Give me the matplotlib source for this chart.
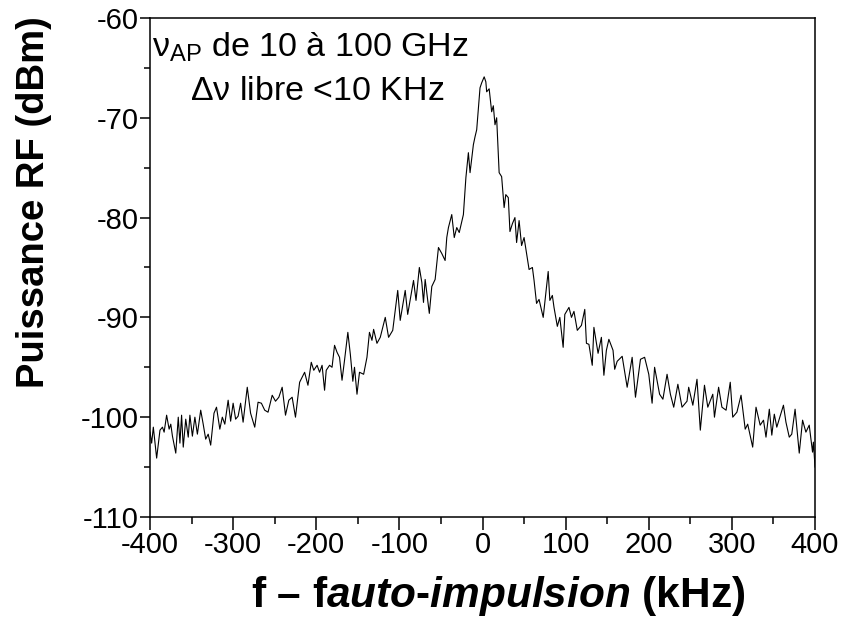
import numpy as np
import matplotlib
matplotlib.use("Agg")
import matplotlib.pyplot as plt

plt.rcParams['font.family'] = ['Liberation Sans', 'DejaVu Sans']
plt.rcParams['mathtext.fontset'] = 'custom'
plt.rcParams['mathtext.rm'] = 'Liberation Sans'
plt.rcParams['mathtext.sf'] = 'Liberation Sans:italic:bold'
plt.rcParams['axes.unicode_minus'] = False

# spectre RF (kHz, dBm)
freq_khz = [
    -400, -398, -396, -392, -388, -385, -383, -380, -377, -375, -373, -369,
    -366, -364, -362, -360, -357, -354, -352, -349, -346, -343, -339, -336,
    -333, -330, -327, -323, -320, -316, -313, -310, -306, -303, -300, -297,
    -294, -291, -288, -283, -279, -274, -270, -266, -262, -258, -253, -249,
    -245, -241, -237, -233, -229, -225, -220, -214, -210, -206, -203, -199,
    -196, -193, -190, -188, -184, -181, -178, -175, -172, -169, -166, -162,
    -159, -156, -154, -151, -148, -143, -139, -136, -133, -131, -127, -123,
    -117, -113, -108, -102, -99, -93, -90, -83, -80, -76, -73, -71,
    -69, -64, -61, -57, -53, -49, -45, -43, -41, -37, -34, -31,
    -28, -23, -20, -17, -15, -11, -9, -7, -3, -1, 2, 4,
    5, 8, 11, 13, 15, 17, 20, 23, 26, 28, 31, 33,
    36, 39, 41, 44, 47, 50, 53, 56, 60, 62, 65, 68,
    73, 79, 81, 84, 86, 90, 93, 97, 99, 104, 107, 110,
    114, 119, 123, 125, 128, 132, 134, 139, 143, 146, 149, 152,
    157, 159, 162, 168, 174, 180, 184, 190, 195, 200, 204, 207,
    213, 217, 222, 226, 230, 235, 240, 246, 248, 253, 258, 262,
    267, 271, 277, 279, 284, 288, 293, 298, 301, 306, 311, 316,
    319, 325, 329, 334, 338, 341, 345, 348, 351, 354, 362, 365,
    369, 372, 376, 381, 385, 389, 393, 397, 398, 400,
]
power_dbm = [
    -101.5, -102.6, -101.0, -104.1, -101.3, -101.0, -101.5, -99.8, -101.2, -100.7, -101.9, -103.6,
    -100.0, -102.6, -99.8, -103.0, -100.2, -102.0, -99.8, -101.9, -100.0, -101.7, -99.3, -100.7,
    -102.2, -101.7, -102.8, -99.6, -99.0, -101.2, -100.0, -100.7, -98.3, -100.4, -98.6, -100.2,
    -99.9, -98.6, -100.5, -97.0, -99.6, -101.0, -98.5, -98.6, -99.3, -99.5, -97.8, -98.4,
    -98.0, -97.0, -99.8, -98.3, -98.0, -100.0, -96.5, -95.5, -96.8, -94.5, -95.3, -94.8,
    -95.5, -94.8, -97.3, -95.3, -94.8, -95.0, -92.8, -93.5, -94.0, -96.3, -94.3, -91.5,
    -93.7, -96.4, -95.0, -97.7, -95.5, -95.7, -94.0, -91.5, -92.3, -91.2, -92.6, -92.0,
    -90.0, -92.0, -91.3, -87.3, -90.3, -87.3, -89.7, -86.3, -88.3, -85.0, -86.5, -88.5,
    -86.2, -89.6, -86.9, -86.2, -83.0, -83.6, -84.3, -82.0, -81.0, -79.7, -82.0, -81.0,
    -81.5, -79.7, -76.0, -73.5, -75.5, -72.7, -71.9, -71.2, -67.0, -66.5, -65.9, -66.4,
    -67.4, -67.1, -69.4, -68.8, -70.7, -70.0, -75.5, -75.9, -79.0, -77.7, -78.0, -81.4,
    -80.6, -80.0, -82.5, -80.3, -82.8, -82.0, -83.6, -85.2, -85.0, -86.3, -88.6, -88.2,
    -90.0, -85.4, -88.3, -87.8, -89.0, -90.9, -90.0, -93.0, -89.7, -89.0, -90.0, -89.4,
    -91.3, -90.8, -89.2, -92.6, -92.7, -94.8, -91.0, -93.6, -92.0, -95.8, -93.3, -92.2,
    -93.3, -95.2, -94.4, -93.9, -97.0, -94.0, -98.0, -94.2, -94.0, -95.7, -98.6, -95.0,
    -97.7, -98.2, -95.7, -97.7, -99.0, -96.7, -99.0, -98.4, -97.0, -98.8, -96.2, -101.3,
    -96.8, -99.0, -97.7, -100.0, -97.0, -99.0, -99.3, -96.5, -100.0, -99.5, -97.8, -101.2,
    -100.7, -103.0, -99.0, -100.8, -100.3, -102.0, -99.2, -101.8, -99.7, -101.0, -98.8, -100.5,
    -102.0, -101.7, -99.2, -103.6, -100.3, -101.5, -100.8, -103.5, -102.5, -105.0,
]

x_ticks = [-400, -300, -200, -100, 0, 100, 200, 300, 400]
y_ticks = [-110, -100, -90, -80, -70, -60]

fig = plt.figure(figsize=(8.46, 6.19), dpi=100)
ax = fig.add_axes([0.1773, 0.1648, 0.7861, 0.8062])

ax.plot(freq_khz, power_dbm, color='black', linewidth=0.8)

ax.set_xlim(-400, 400)
ax.set_ylim(-110, -60)
ax.set_xticks(x_ticks)
ax.set_yticks(y_ticks)
ax.set_xticks(np.arange(-350, 400, 100), minor=True)
ax.set_yticks(np.arange(-105, -60, 10), minor=True)
ax.tick_params(axis='both', which='both', direction='out', labelsize=21, width=1.1)
ax.tick_params(axis='x', which='major', length=9, pad=1)
ax.tick_params(axis='x', which='minor', length=5)
ax.tick_params(axis='y', which='major', length=7, pad=1)
ax.tick_params(axis='y', which='minor', length=4)
for s in ax.spines.values():
    s.set_linewidth(1.1)

ax.set_ylabel("Puissance RF (dBm)", fontsize=27.5, fontweight='bold')
ax.yaxis.set_label_coords(-0.147, 0.63)
ax.set_xlabel(r"f – f$\mathsf{auto}$-$\mathsf{impulsion}$ (kHz)", fontsize=30.5,
              fontweight='bold')
ax.xaxis.set_label_coords(0.523, -0.115)

ax.text(-397, -63.9, r"$\mathrm{\nu_{AP}}$ de 10 à 100 GHz", fontsize=24.5, va='baseline')
ax.text(-352, -68.2, r"$\mathrm{\Delta\nu}$ libre <10 KHz", fontsize=24.5, va='baseline')

fig.savefig("out.png", dpi=100)
